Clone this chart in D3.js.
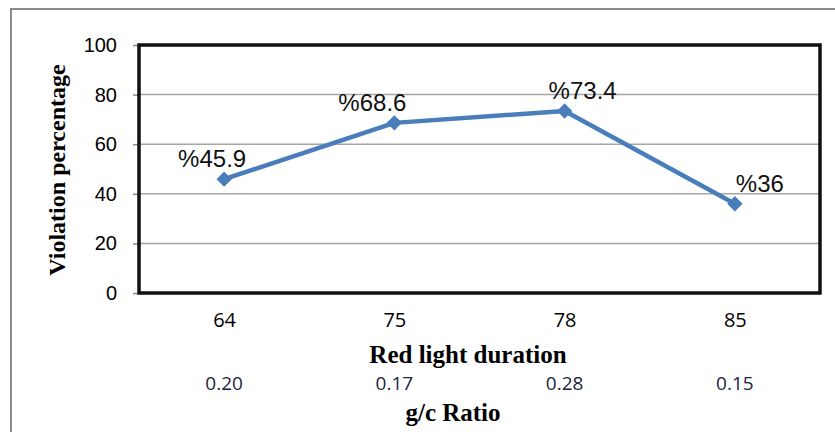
<!DOCTYPE html>
<html>
<head>
<meta charset="utf-8">
<script src="https://cdn.jsdelivr.net/npm/d3@7"></script>
<style>
  body { margin: 0; background: #fff; }
  svg { display: block; }
</style>
</head>
<body>
<div id="chart"></div>
<script>
// data
var redLight = ["64", "75", "78", "85"];          // x kategorier
var gcRatio = ["0.20", "0.17", "0.28", "0.15"];   // andra raden under axeln
var violation = [45.9, 68.6, 73.4, 36];           // serie
var yTicks = [0, 20, 40, 60, 80, 100];

// etiketternas förskjutning i sidled (manuellt placerade i originalet)
var labelDx = [-12, -22, 18, 25];

var width = 835, height = 432;
var plot = { left: 139, top: 45, right: 820, bottom: 293 };

var svg = d3.select("#chart").append("svg")
    .attr("width", width)
    .attr("height", height);

// yttre ram
svg.append("path")
    .attr("d", "M11," + height + "V9H" + width)
    .attr("fill", "none")
    .attr("stroke", "#8a8a8a")
    .attr("stroke-width", 2);

var x = d3.scalePoint()
    .domain(redLight)
    .range([plot.left, plot.right])
    .padding(0.5);

var y = d3.scaleLinear()
    .domain([0, 100])
    .range([plot.bottom, plot.top]);

// rutnät
svg.append("g")
    .selectAll("line")
    .data(yTicks.filter(function(d) { return d > 0 && d < 100; }))
    .enter().append("line")
    .attr("x1", plot.left)
    .attr("x2", plot.right)
    .attr("y1", function(d) { return y(d); })
    .attr("y2", function(d) { return y(d); })
    .attr("stroke", "#a6a6a6")
    .attr("stroke-width", 1.5);

// y-axel
var yAxis = svg.append("g")
    .attr("class", "axis y-axis")
    .attr("transform", "translate(" + plot.left + ",0)")
    .call(d3.axisLeft(y).tickValues(yTicks).tickSize(6).tickPadding(16));
yAxis.select(".domain").remove();
yAxis.selectAll(".tick line").attr("stroke", "#8a8a8a").attr("stroke-width", 1.5);
yAxis.selectAll(".tick text")
    .attr("fill", "#000")
    .style("font-family", "Liberation Sans, Arial, sans-serif")
    .style("font-size", "20px");

// plotram
svg.append("rect")
    .attr("x", plot.left)
    .attr("y", plot.top)
    .attr("width", plot.right - plot.left)
    .attr("height", plot.bottom - plot.top)
    .attr("fill", "none")
    .attr("stroke", "#111")
    .attr("stroke-width", 3.5);

// x-axel (bara etiketter)
var xAxis = svg.append("g")
    .attr("class", "axis x-axis")
    .attr("transform", "translate(0," + plot.bottom + ")")
    .call(d3.axisBottom(x).tickSize(0).tickPadding(20));
xAxis.select(".domain").remove();
xAxis.selectAll(".tick text")
    .attr("fill", "#000")
    .style("font-family", "Open Sans, sans-serif")
    .style("font-size", "20px");

// g/c-rad
svg.append("g")
    .selectAll("text")
    .data(redLight)
    .enter().append("text")
    .attr("x", function(d) { return x(d); })
    .attr("y", 390)
    .attr("text-anchor", "middle")
    .attr("fill", "#1c2540")
    .style("font-family", "Open Sans, sans-serif")
    .style("font-size", "19px")
    .text(function(d, i) { return gcRatio[i]; });

// axeltitlar
svg.append("text")
    .attr("x", 468)
    .attr("y", 363)
    .attr("text-anchor", "middle")
    .style("font-family", "Liberation Serif, Times New Roman, serif")
    .style("font-weight", "bold")
    .style("font-size", "25px")
    .text("Red light duration");

svg.append("text")
    .attr("x", 453)
    .attr("y", 421)
    .attr("text-anchor", "middle")
    .style("font-family", "Liberation Serif, Times New Roman, serif")
    .style("font-weight", "bold")
    .style("font-size", "25px")
    .text("g/c Ratio");

svg.append("text")
    .attr("transform", "translate(65," + ((plot.top + plot.bottom) / 2 + 1) + ") rotate(-90)")
    .attr("text-anchor", "middle")
    .style("font-family", "Liberation Serif, Times New Roman, serif")
    .style("font-weight", "bold")
    .style("font-size", "24px")
    .text("Violation percentage");

// linje
var line = d3.line()
    .x(function(d, i) { return x(redLight[i]); })
    .y(function(d) { return y(d); });

svg.append("path")
    .datum(violation)
    .attr("fill", "none")
    .attr("stroke", "#4a7ebb")
    .attr("stroke-width", 4.5)
    .attr("stroke-linejoin", "round")
    .attr("d", line);

// markörer
svg.append("g")
    .selectAll("path")
    .data(violation)
    .enter().append("path")
    .attr("transform", function(d, i) { return "translate(" + x(redLight[i]) + "," + y(d) + ")"; })
    .attr("d", d3.symbol().type(d3.symbolDiamond2).size(150))
    .attr("fill", "#4a7ebb");

// värdeetiketter
svg.append("g")
    .selectAll("text")
    .data(violation)
    .enter().append("text")
    .attr("x", function(d, i) { return x(redLight[i]) + labelDx[i]; })
    .attr("y", function(d) { return y(d) - 12; })
    .attr("text-anchor", "middle")
    .attr("fill", "#111")
    .style("font-family", "Liberation Sans, Arial, sans-serif")
    .style("font-size", "24px")
    .text(function(d) { return "%" + d; });
</script>
</body>
</html>
